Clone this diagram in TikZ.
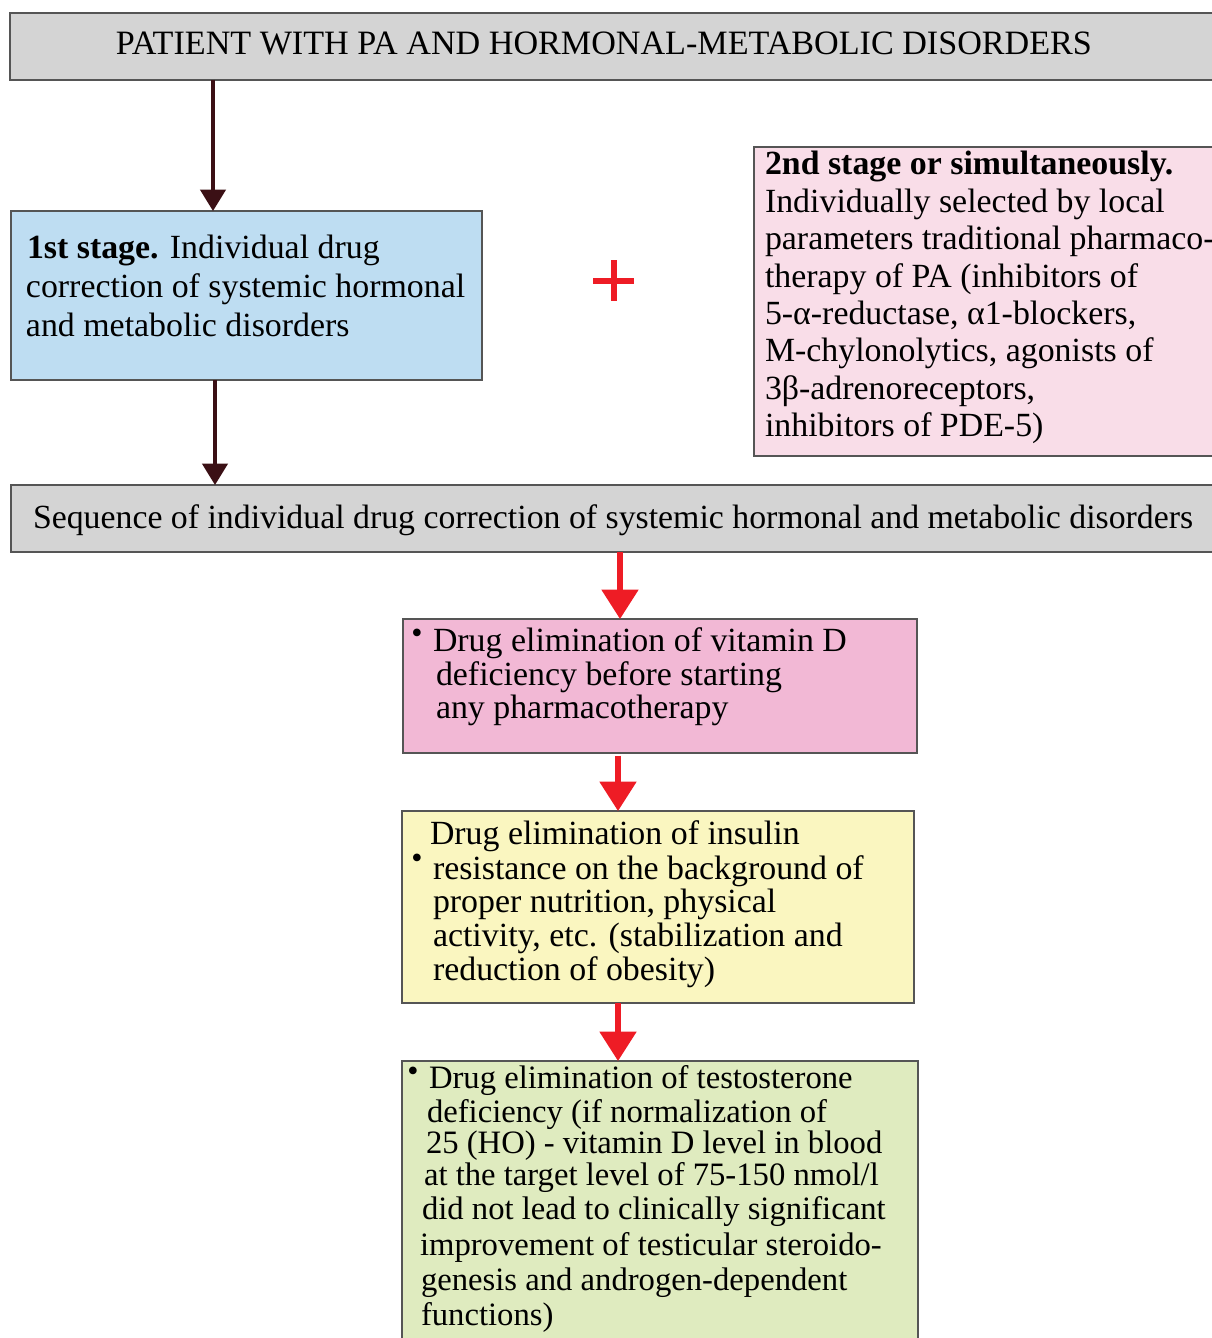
\documentclass[tikz,border=0pt]{standalone}
\usepackage{fontspec}
\setmainfont{Liberation Serif}
\usetikzlibrary{arrows.meta}
\definecolor{boxgray}{HTML}{D4D4D4}
\definecolor{boxblue}{HTML}{BEDDF2}
\definecolor{boxpinkl}{HTML}{F9DDE8}
\definecolor{boxpink}{HTML}{F2B8D5}
\definecolor{boxyellow}{HTML}{FAF6C0}
\definecolor{boxgreen}{HTML}{DFEBBF}
\definecolor{darrowc}{HTML}{3B1015}
\definecolor{rarrowc}{HTML}{EE1C25}
\definecolor{edgec}{HTML}{555555}
\tikzset{
  box/.style={draw=edgec, line width=1pt, anchor=north west, inner sep=0pt, outer sep=0pt},
  txt/.style={anchor=base west, inner sep=0pt, outer sep=0pt, font=\fontsize{25.4}{30}\selectfont},
  txtg/.style={anchor=base west, inner sep=0pt, outer sep=0pt, font=\fontsize{24.5}{30}\selectfont},
  bul/.style={anchor=center, inner sep=0pt, font=\fontsize{24}{24}\selectfont},
  darrow/.style={draw=darrowc, line width=2.3pt, -{Triangle[width=19pt,length=16pt]}},
  rarrow/.style={draw=rarrowc, line width=3.8pt, -{Triangle[width=27pt,length=22pt]}},
}
\begin{document}
\begin{tikzpicture}[x=0.75pt, y=-0.75pt]
\useasboundingbox (0,0) rectangle (1212,1338);
\clip (0,0) rectangle (1212,1338);
% boxes
\node[box, fill=boxgray, minimum width=911.25pt, minimum height=50.25pt] (top) at (10,13) {};
\node[box, fill=boxblue, minimum width=353.25pt, minimum height=126.75pt] (blue) at (11,211) {};
\node[box, fill=boxpinkl, minimum width=353.25pt, minimum height=231.75pt] (right) at (754,147) {};
\node[box, fill=boxgray, minimum width=910.5pt, minimum height=50.25pt] (seq) at (11,485) {};
\node[box, fill=boxpink, minimum width=385.5pt, minimum height=100.5pt] (vitd) at (403,619) {};
\node[box, fill=boxyellow, minimum width=384pt, minimum height=144pt] (ins) at (402,811) {};
\node[box, fill=boxgreen, minimum width=387pt, minimum height=216.75pt] (test) at (402,1061) {};
% arrow columns
\coordinate (c1) at (213,0);
\coordinate (c2) at (215,0);
\coordinate (c3) at (620,0);
\coordinate (c4) at (618,0);
\draw[darrow] (top.south -| c1) -- (blue.north -| c1);
\draw[darrow] (blue.south -| c2) -- (seq.north -| c2);
\draw[rarrow] (seq.south -| c3) -- (vitd.north -| c3);
\draw[rarrow] ([yshift=-2pt]vitd.south -| c4) -- (ins.north -| c4);
\draw[rarrow] (ins.south -| c4) -- (test.north -| c4);
% plus sign
\draw[rarrowc, line width=3.8pt] (593,281) -- (634,281);
\draw[rarrowc, line width=3.8pt] (614,260) -- (614,301);
% title
\node[anchor=base, inner sep=0pt, font=\fontsize{25.6}{30}\selectfont] (ttl) at (604,55) {PATIENT WITH PA AND HORMONAL-METABOLIC DISORDERS};
% blue box text
\node[txt] (b1) at (27,258) {\textbf{1st stage.} Individual drug};
\node[txt] (b2) at (26,297) {correction of systemic hormonal};
\node[txt] (b3) at (26,336) {and metabolic disorders};
% right pink box text
\node[txt] (r1) at (765,174) {\textbf{2nd stage or simultaneously.}};
\node[txt] (r2) at (765,212) {Individually selected by local};
\node[txt] (r3) at (765,249) {parameters traditional pharmaco-};
\node[txt] (r4) at (765,287) {therapy of PA (inhibitors of};
\node[txt] (r5) at (765,324) {5-α-reductase, α1-blockers,};
\node[txt] (r6) at (765,361) {M-chylonolytics, agonists of};
\node[txt] (r7) at (765,399) {3β-adrenoreceptors,};
\node[txt] (r8) at (765,436) {inhibitors of PDE-5)};
% sequence
\node[txt, font=\fontsize{25.35}{30}\selectfont] (s1) at (33,528) {Sequence of individual drug correction of systemic hormonal and metabolic disorders};
% vitamin D box
\node[bul] (vb) at (417,636) {•};
\node[txt] (v1) at (433,651) {Drug elimination of vitamin D};
\node[txt] (v2) at (436,685) {deficiency before starting};
\node[txt] (v3) at (436,718) {any pharmacotherapy};
% insulin box
\node[bul] (ib) at (417,861) {•};
\node[txt] (i1) at (430,844) {Drug elimination of insulin};
\node[txt] (i2) at (433,879) {resistance on the background of};
\node[txt] (i3) at (433,912) {proper nutrition, physical};
\node[txt] (i4) at (433,946) {activity, etc. (stabilization and};
\node[txt] (i5) at (433,980) {reduction of obesity)};
% testosterone box
\node[bul] (tb) at (413,1074) {•};
\node[txtg] (t1) at (429,1088) {Drug elimination of testosterone};
\node[txtg] (t2) at (427,1122) {deficiency (if normalization of};
\node[txtg] (t3) at (426,1153) {25 (HO) - vitamin D level in blood};
\node[txtg] (t4) at (424,1185) {at the target level of 75-150 nmol/l};
\node[txtg] (t5) at (422,1219) {did not lead to clinically significant};
\node[txtg] (t6) at (420,1255) {improvement of testicular steroido-};
\node[txtg] (t7) at (421,1290) {genesis and androgen-dependent};
\node[txtg] (t8) at (421,1325) {functions)};
\end{tikzpicture}
\end{document}
